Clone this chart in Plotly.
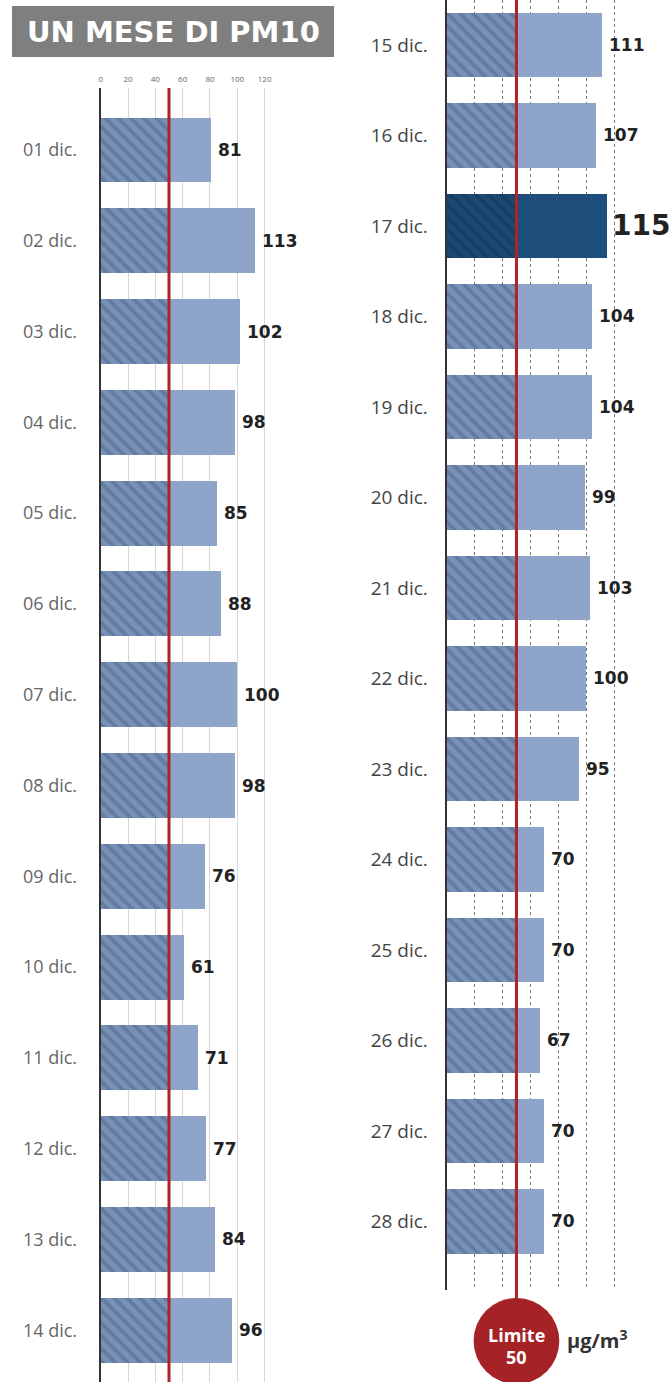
import plotly.graph_objects as go

W, H = 672, 1382
LIMIT = 50

days_left = ["01 dic.", "02 dic.", "03 dic.", "04 dic.", "05 dic.", "06 dic.", "07 dic.",
             "08 dic.", "09 dic.", "10 dic.", "11 dic.", "12 dic.", "13 dic.", "14 dic."]
pm10_left = [81, 113, 102, 98, 85, 88, 100, 98, 76, 61, 71, 77, 84, 96]

days_right = ["15 dic.", "16 dic.", "17 dic.", "18 dic.", "19 dic.", "20 dic.", "21 dic.",
              "22 dic.", "23 dic.", "24 dic.", "25 dic.", "26 dic.", "27 dic.", "28 dic."]
pm10_right = [111, 107, 115, 104, 104, 99, 103, 100, 95, 70, 70, 67, 70, 70]

highlight_day = "17 dic."
grid_ticks = [0, 20, 40, 60, 80, 100, 120]
tick_labels = ["0", "20", "40", "60", "80", "100", "120"]

C_LIGHT = "#8ea5c9"
C_HATCH_BG = "#7891b6"
C_HATCH_FG = "#4d6589"
C_HL = "#1d4d7a"
C_HL_BG = "#1c4873"
C_HL_FG = "#12355a"
C_RED = "#ad2326"
VAL_FONT = "DejaVu Sans"


def py(p):
    return 1 - p / H


fig = go.Figure()


def add_panel(days, vals, xa, ya):
    pos = list(range(len(days)))
    hl = [d == highlight_day for d in days]
    under = [min(v, LIMIT) for v in vals]
    over = [max(v - LIMIT, 0) for v in vals]
    for want_hl, bg, fg in ((False, C_HATCH_BG, C_HATCH_FG), (True, C_HL_BG, C_HL_FG)):
        xs = [u if h == want_hl else None for u, h in zip(under, hl)]
        if all(x is None for x in xs):
            continue
        fig.add_trace(go.Bar(
            orientation="h", y=pos, x=xs, xaxis=xa, yaxis=ya, width=0.715,
            marker=dict(color=bg, line_width=0,
                        pattern=dict(shape="\\", fgcolor=fg, bgcolor=bg,
                                     size=9, solidity=0.42)),
            hoverinfo="skip", showlegend=False))
    fig.add_trace(go.Bar(
        orientation="h", y=pos, x=over, xaxis=xa, yaxis=ya, width=0.715,
        marker=dict(color=[C_HL if h else C_LIGHT for h in hl], line_width=0),
        hoverinfo="skip", showlegend=False))
    for i, (v, h) in enumerate(zip(vals, hl)):
        fig.add_annotation(x=v, y=i, xref=xa, yref=ya, text="<b>%d</b>" % v,
                           showarrow=False, xanchor="left", yanchor="middle",
                           xshift=3 if h else 5,
                           font=dict(family=VAL_FONT, size=28 if h else 17, color="#222"))


add_panel(days_left, pm10_left, "x", "y")
add_panel(days_right, pm10_right, "x2", "y2")

fig.update_layout(
    width=W, height=H, margin=dict(l=0, r=0, t=0, b=0),
    paper_bgcolor="white", plot_bgcolor="white", barmode="stack",
    xaxis=dict(domain=[99 / W, (99 + 150 * 1.37) / W], range=[0, 150], side="top",
               tickvals=grid_ticks, ticktext=tick_labels, ticks="",
               tickfont=dict(family="Open Sans", size=8, color="#666"),
               showgrid=True, gridcolor="#d6d6d6", gridwidth=1, zeroline=False,
               showline=False, anchor="y", ticklabelstandoff=3),
    yaxis=dict(domain=[0, py(88)], range=[13.57, -0.683], tickvals=list(range(len(days_left))),
               ticktext=days_left, ticks="", showline=True, linecolor="#333", linewidth=2,
               tickfont=dict(family="Open Sans", size=18, color="#666"),
               ticklabelstandoff=18, showgrid=False, zeroline=False, anchor="x"),
    xaxis2=dict(domain=[446 / W, (446 + 160 * 1.40) / W], range=[0, 160],
                tickvals=grid_ticks[1:], showticklabels=False, ticks="",
                showgrid=True, gridcolor="#777", griddash="dot", gridwidth=1,
                zeroline=False, showline=False, anchor="y2"),
    yaxis2=dict(domain=[py(1290), 1], range=[13.757, -0.497],
                tickvals=list(range(len(days_right))), ticktext=days_right, ticks="",
                showline=True, linecolor="#333", linewidth=2,
                tickfont=dict(family="Open Sans", size=19, color="#444"),
                ticklabelstandoff=13, showgrid=False, zeroline=False, anchor="x2"),
)

# limit lines
fig.add_shape(type="line", xref="x", yref="y domain", x0=LIMIT, x1=LIMIT, y0=0, y1=1,
              line=dict(color=C_RED, width=3))
fig.add_shape(type="line", xref="x2", yref="paper", x0=LIMIT, x1=LIMIT, y0=py(1320), y1=1,
              line=dict(color=C_RED, width=3))
# limit badge
r_px = 43
fig.add_shape(type="circle", xref="x2", yref="paper",
              x0=LIMIT - r_px / 1.4, x1=LIMIT + r_px / 1.4,
              y0=py(1341 + r_px), y1=py(1341 - r_px),
              fillcolor="#a52226", line_width=0)
fig.add_annotation(x=LIMIT, xref="x2", y=py(1335), yref="paper", text="<b>Limite</b>",
                   showarrow=False, xanchor="center", yanchor="middle",
                   font=dict(family="Open Sans", size=18, color="white"))
fig.add_annotation(x=LIMIT, xref="x2", y=py(1357), yref="paper", text="<b>50</b>",
                   showarrow=False, xanchor="center", yanchor="middle",
                   font=dict(family="Open Sans", size=18, color="white"))
fig.add_annotation(x=565 / W, xref="paper", y=py(1339), yref="paper", xanchor="left",
                   yanchor="middle", text="<b>μg/m<sup>3</sup></b>", showarrow=False,
                   font=dict(family="Open Sans", size=20, color="#333"))

# title
fig.add_shape(type="rect", xref="paper", yref="paper", x0=10 / W, x1=333 / W,
              y0=py(57), y1=py(6), fillcolor="#7f7f7f", line_width=0)
fig.add_annotation(x=172 / W, xref="paper", y=py(32), yref="paper",
                   xanchor="center", yanchor="middle",
                   text="<b>UN MESE DI PM10</b>", showarrow=False,
                   font=dict(family="DejaVu Sans", size=29, color="white"))

fig.write_html("out.html", post_script="document.body.style.margin='0px';",
               config={"displayModeBar": False})
